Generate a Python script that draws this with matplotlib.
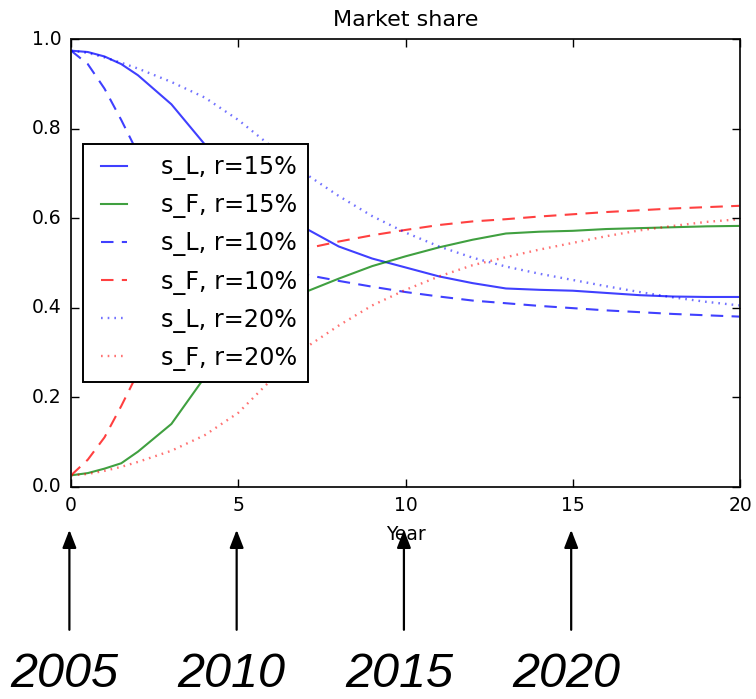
import matplotlib
matplotlib.use("Agg")
import matplotlib.pyplot as plt

plt.style.use('classic')

# years since start of the simulation
t = [0, 0.5, 1, 1.5, 2, 3, 4, 5, 6, 7, 8, 9, 10, 11, 12, 13, 14, 15, 16, 17, 18, 19, 20]

sL_15 = [0.975, 0.972, 0.962, 0.945, 0.920, 0.855, 0.765, 0.695, 0.632, 0.578, 0.537, 0.510,
         0.490, 0.470, 0.455, 0.443, 0.440, 0.438, 0.433, 0.428, 0.425, 0.424, 0.424]
sF_15 = [0.025, 0.030, 0.040, 0.052, 0.078, 0.140, 0.245, 0.320, 0.385, 0.435, 0.465, 0.493,
         0.515, 0.535, 0.552, 0.566, 0.570, 0.572, 0.576, 0.578, 0.580, 0.582, 0.583]
sL_10 = [0.975, 0.945, 0.890, 0.820, 0.745, 0.630, 0.550, 0.505, 0.484, 0.474, 0.460, 0.447,
         0.435, 0.425, 0.416, 0.410, 0.404, 0.399, 0.394, 0.390, 0.386, 0.383, 0.380]
sF_10 = [0.025, 0.060, 0.110, 0.180, 0.255, 0.370, 0.450, 0.495, 0.518, 0.532, 0.548, 0.562,
         0.574, 0.585, 0.593, 0.598, 0.604, 0.609, 0.614, 0.618, 0.622, 0.625, 0.628]
sL_20 = [0.975, 0.970, 0.960, 0.948, 0.935, 0.905, 0.870, 0.820, 0.760, 0.700, 0.650, 0.605,
         0.568, 0.537, 0.512, 0.492, 0.476, 0.462, 0.448, 0.435, 0.423, 0.413, 0.405]
sF_20 = [0.025, 0.028, 0.035, 0.044, 0.055, 0.080, 0.115, 0.165, 0.240, 0.310, 0.360, 0.405,
         0.440, 0.470, 0.495, 0.513, 0.530, 0.545, 0.560, 0.573, 0.583, 0.592, 0.598]

years = [2005, 2010, 2015, 2020]

fig = plt.figure(figsize=(7.56, 6.99), dpi=100, facecolor='white')
ax = fig.add_axes([0.094, 0.304, 0.885, 0.6395])

dash = (0, (9, 6))
dot = (0, (1.2, 3.6))
ax.plot(t, sL_15, color='b', alpha=0.75, lw=1.5, label='s_L, r=15%')
ax.plot(t, sF_15, color='g', alpha=0.75, lw=1.5, label='s_F, r=15%')
ax.plot(t, sL_10, color='b', alpha=0.75, lw=1.5, ls=dash, label='s_L, r=10%')
ax.plot(t, sF_10, color='r', alpha=0.75, lw=1.5, ls=dash, label='s_F, r=10%')
ax.plot(t, sL_20, color='b', alpha=0.55, lw=1.7, ls=dot, label='s_L, r=20%')
ax.plot(t, sF_20, color='r', alpha=0.55, lw=1.7, ls=dot, label='s_F, r=20%')

ax.set_xlim(0, 20)
ax.set_ylim(0, 1)
ax.set_xticks([0, 5, 10, 15, 20])
ax.set_yticks([0.0, 0.2, 0.4, 0.6, 0.8, 1.0])
ax.tick_params(labelsize=13.5, direction='in', length=6, width=1, pad=7)
for s in ax.spines.values():
    s.set_linewidth(1.4)
    s.set_color('#222222')

ax.set_title('Market share', fontsize=16, pad=10)
ax.set_xlabel('Year', fontsize=13.5, labelpad=7)

leg = ax.legend(loc='center left', fontsize=17.2, handlelength=1.7, handletextpad=1.1,
                labelspacing=0.55, borderpad=0.45, borderaxespad=0.5, fancybox=False)
leg.get_frame().set_edgecolor('black')
leg.get_frame().set_linewidth(1.4)

# calendar-year pointers under the time axis
for y in years:
    x = y - 2005
    ax.annotate('', xy=(x - 0.05, 0.242), xytext=(x - 0.05, 0.099),
                xycoords=('data', 'figure fraction'), textcoords=('data', 'figure fraction'),
                annotation_clip=False,
                arrowprops=dict(arrowstyle='-|>,head_length=0.9,head_width=0.35',
                                color='black', lw=1.6, shrinkA=0, shrinkB=0))
    ax.annotate(str(y), xy=(x - 0.2, 0.003), xycoords=('data', 'figure fraction'),
                ha='center', va='bottom', fontsize=35, style='italic',
                family=['Liberation Sans', 'DejaVu Sans'], annotation_clip=False)

fig.savefig('out.png', dpi=100, facecolor='white')
